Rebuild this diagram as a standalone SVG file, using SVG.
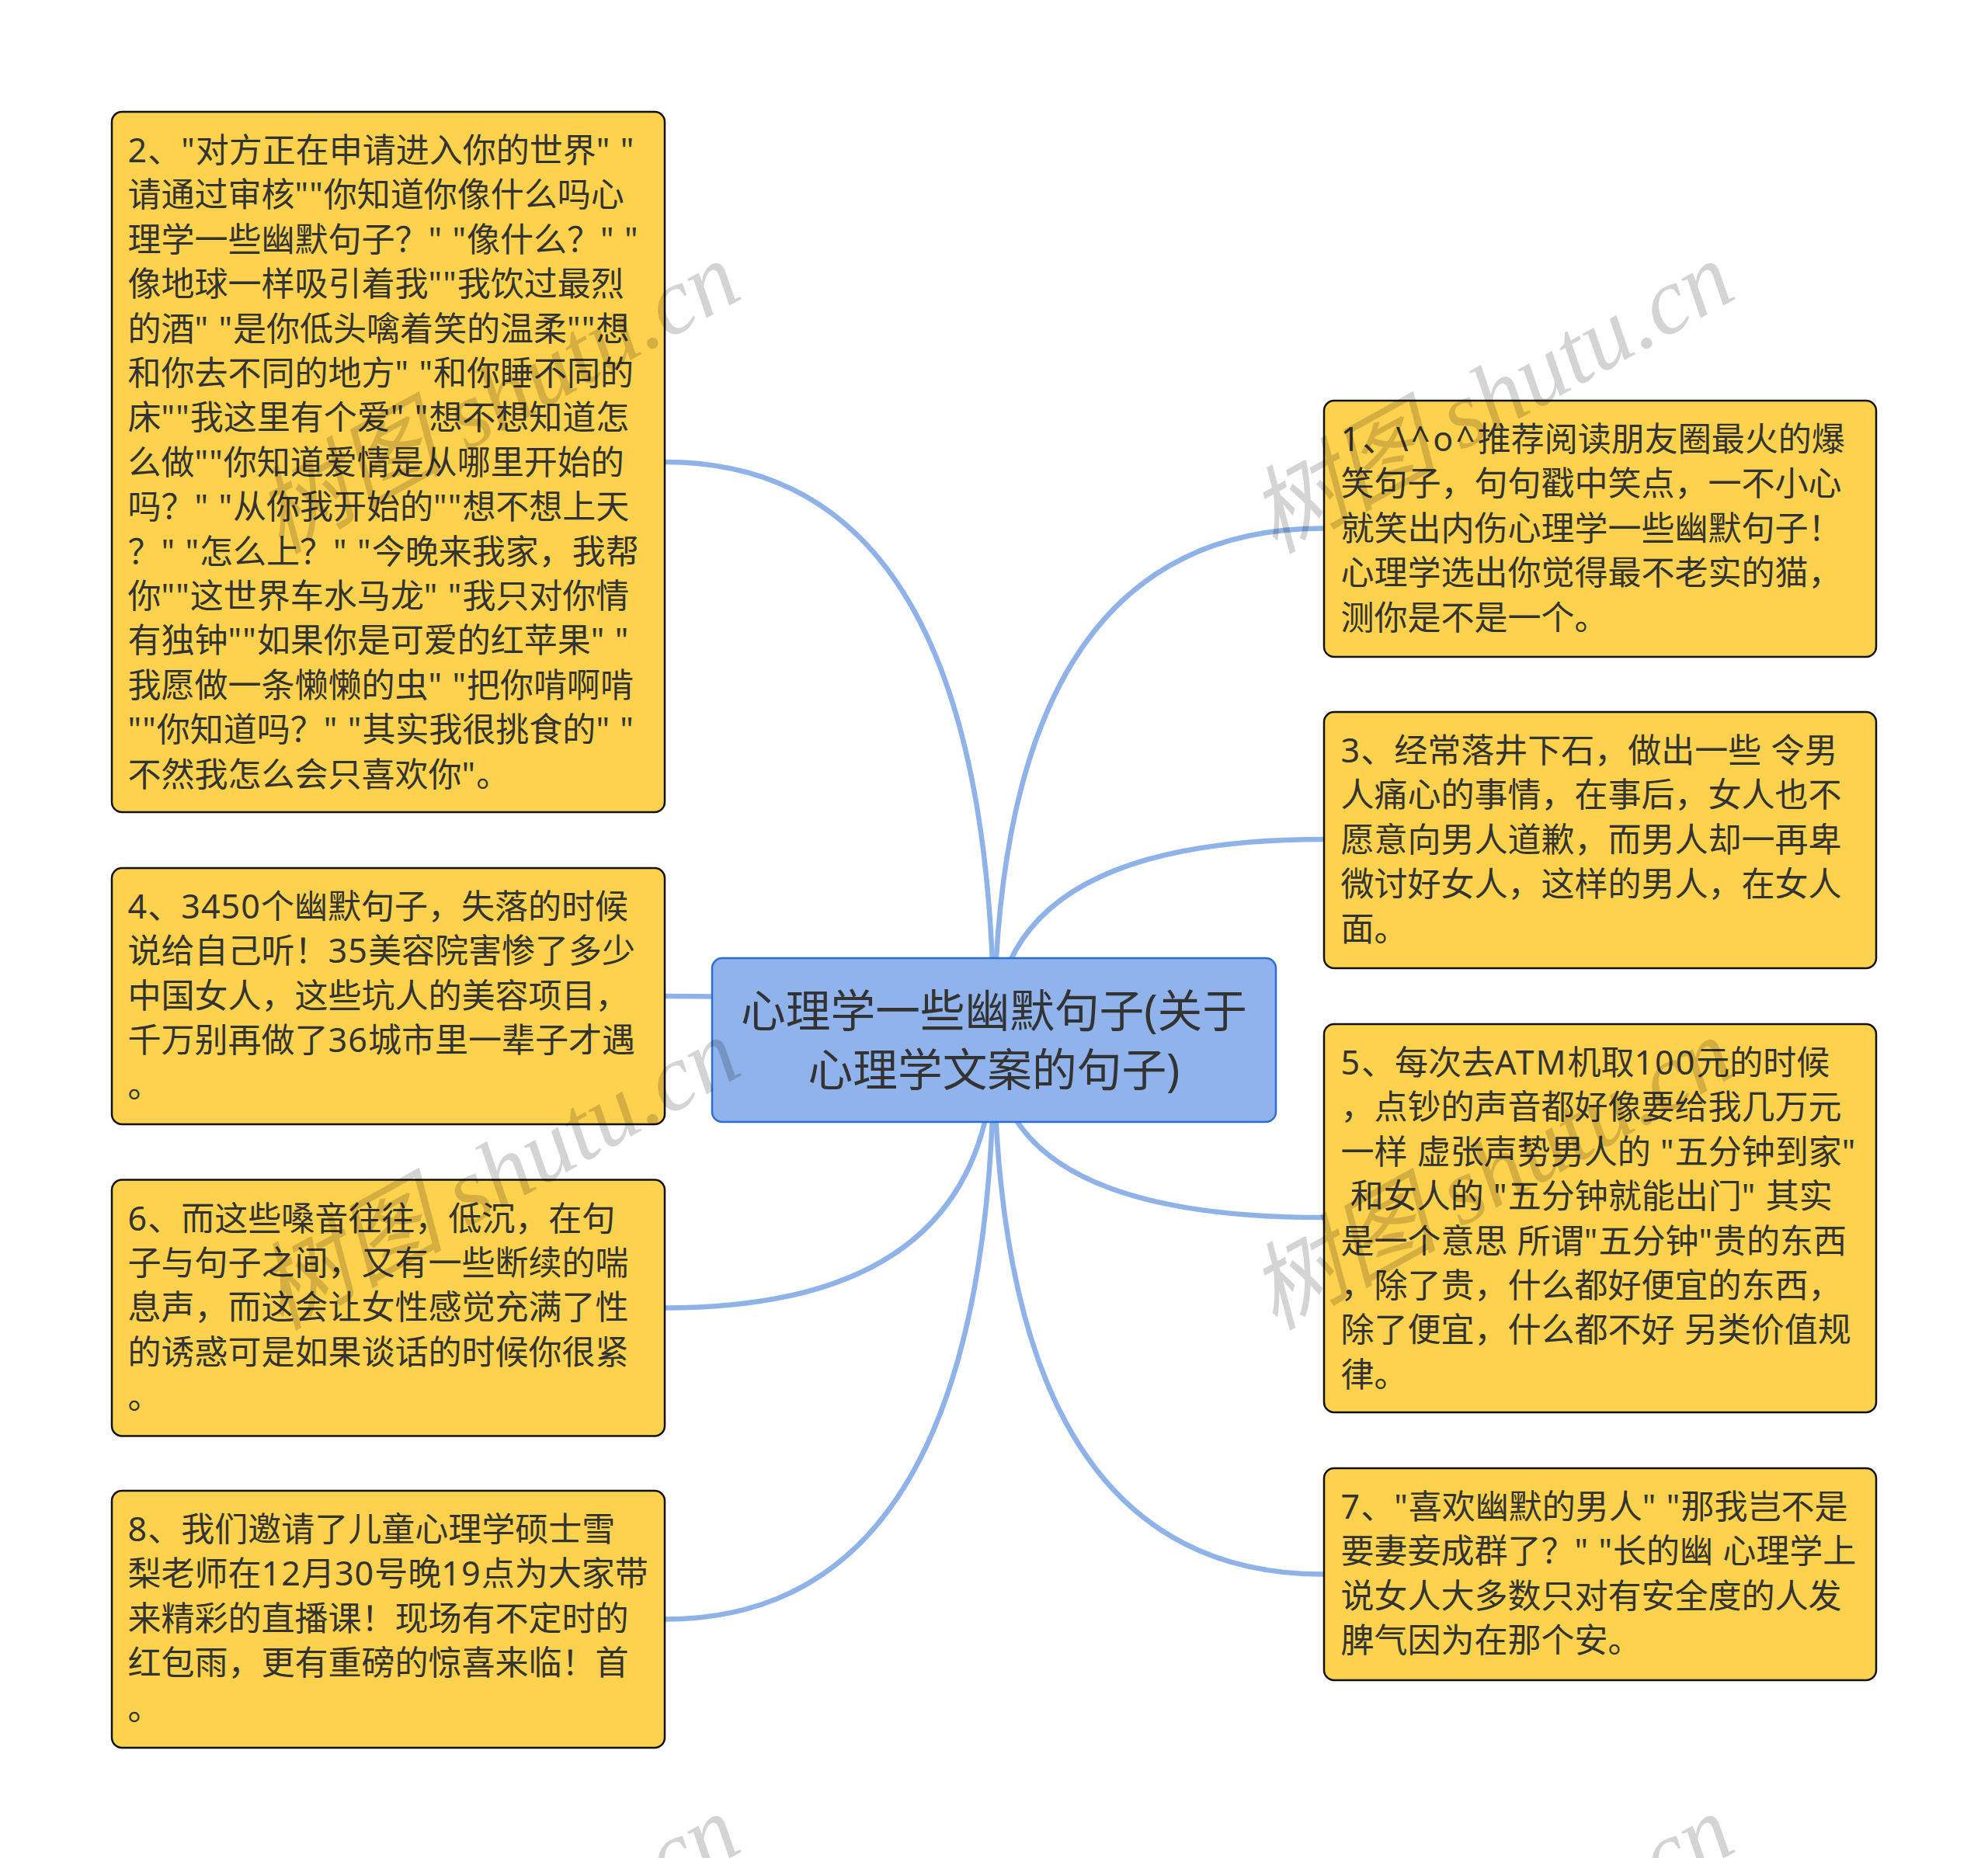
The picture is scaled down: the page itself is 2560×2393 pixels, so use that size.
<svg xmlns="http://www.w3.org/2000/svg" width="2560" height="2393" viewBox="0 0 2560 2393">
<style>
text{font-family:"Noto Sans","Noto Sans CJK SC",sans-serif;white-space:pre}
.box{fill:#ffd24d;stroke:#111;stroke-width:2.5}
.root{fill:#8fb3ea;stroke:#2a6fd6;stroke-width:2.5}
.t{font-size:43px;fill:#333}
.l{letter-spacing:1.1px}
.w{letter-spacing:2px}
.x{letter-spacing:3.5px}
.rt{font-size:57.7px;fill:#333;text-anchor:middle}
.c{fill:none;stroke:#8fb3e8;stroke-width:6.5}
.wm{font-family:"Liberation Serif","Noto Sans CJK SC",serif;font-style:italic;font-size:122px;fill:#000;fill-opacity:.17}
</style>
<rect width="2560" height="2393" fill="#fff"/>
<g id="connectors">
<path class="c" d="M856 595Q1280 595 1280 1339.5"/>
<path class="c" d="M856 1283Q1280 1283 1280 1339.5"/>
<path class="c" d="M856 1684.5Q1280 1684.5 1280 1339.5"/>
<path class="c" d="M856 2085.5Q1280 2085.5 1280 1339.5"/>
<path class="c" d="M1704 680.5Q1280 680.5 1280 1339.5"/>
<path class="c" d="M1704 1081Q1280 1081 1280 1339.5"/>
<path class="c" d="M1704 1568Q1280 1568 1280 1339.5"/>
<path class="c" d="M1704 2027.5Q1280 2027.5 1280 1339.5"/>
</g>
<g id="root"><rect class="root" x="917" y="1234" width="726" height="211" rx="13"/>
<text class="rt"><tspan x="1280" y="1323">心理学一些幽默句子(关于</tspan><tspan x="1280" y="1399">心理学文案的句子)</tspan></text></g>
<g id="n2"><rect class="box" x="144" y="144" width="712" height="902" rx="13"/>
<text class="t" transform="translate(164.5 209)"><tspan x="0" y="0"><tspan class="l">2</tspan>、<tspan class="l">"</tspan>对方正在申请进入你的世界<tspan class="l">" "</tspan></tspan><tspan x="0" y="57.4">请通过审核<tspan class="l">""</tspan>你知道你像什么吗心</tspan><tspan x="0" y="114.8">理学一些幽默句子？<tspan class="l">" "</tspan>像什么？<tspan class="l">" "</tspan></tspan><tspan x="0" y="172.2">像地球一样吸引着我<tspan class="l">""</tspan>我饮过最烈</tspan><tspan x="0" y="229.6">的酒<tspan class="l">" "</tspan>是你低头噙着笑的温柔<tspan class="l">""</tspan>想</tspan><tspan x="0" y="287">和你去不同的地方<tspan class="l">" "</tspan>和你睡不同的</tspan><tspan x="0" y="344.4">床<tspan class="l">""</tspan>我这里有个爱<tspan class="l">" "</tspan>想不想知道怎</tspan><tspan x="0" y="401.8">么做<tspan class="l">""</tspan>你知道爱情是从哪里开始的</tspan><tspan x="0" y="459.2">吗？<tspan class="l">" "</tspan>从你我开始的<tspan class="l">""</tspan>想不想上天</tspan><tspan x="0" y="516.6">？<tspan class="l">" "</tspan>怎么上？<tspan class="l">" "</tspan>今晚来我家，我帮</tspan><tspan x="0" y="574">你<tspan class="l">""</tspan>这世界车水马龙<tspan class="l">" "</tspan>我只对你情</tspan><tspan x="0" y="631.4">有独钟<tspan class="l">""</tspan>如果你是可爱的红苹果<tspan class="l">" "</tspan></tspan><tspan x="0" y="688.8">我愿做一条懒懒的虫<tspan class="l">" "</tspan>把你啃啊啃</tspan><tspan x="0" y="746.2"><tspan class="l">""</tspan>你知道吗？<tspan class="l">" "</tspan>其实我很挑食的<tspan class="l">" "</tspan></tspan><tspan x="0" y="803.6">不然我怎么会只喜欢你<tspan class="l">"</tspan>。</tspan></text></g>
<g id="n4"><rect class="box" x="144" y="1118" width="712" height="330" rx="13"/>
<text class="t" transform="translate(164.5 1183)"><tspan x="0" y="0"><tspan class="l">4</tspan>、<tspan class="l">3450</tspan>个幽默句子，失落的时候</tspan><tspan x="0" y="57.4">说给自己听！<tspan class="l">35</tspan>美容院害惨了多少</tspan><tspan x="0" y="114.8">中国女人，这些坑人的美容项目，</tspan><tspan x="0" y="172.2">千万别再做了<tspan class="l">36</tspan>城市里一辈子才遇</tspan><tspan x="0" y="229.6">。</tspan></text></g>
<g id="n6"><rect class="box" x="144" y="1519.5" width="712" height="330" rx="13"/>
<text class="t" transform="translate(164.5 1584.5)"><tspan x="0" y="0"><tspan class="l">6</tspan>、而这些嗓音往往，低沉，在句</tspan><tspan x="0" y="57.4">子与句子之间，又有一些断续的喘</tspan><tspan x="0" y="114.8">息声，而这会让女性感觉充满了性</tspan><tspan x="0" y="172.2">的诱惑可是如果谈话的时候你很紧</tspan><tspan x="0" y="229.6">。</tspan></text></g>
<g id="n8"><rect class="box" x="144" y="1920" width="712" height="331" rx="13"/>
<text class="t" transform="translate(164.5 1985)"><tspan x="0" y="0"><tspan class="l">8</tspan>、我们邀请了儿童心理学硕士雪</tspan><tspan x="0" y="57.4">梨老师在<tspan class="l">12</tspan>月<tspan class="l">30</tspan>号晚<tspan class="l">19</tspan>点为大家带</tspan><tspan x="0" y="114.8">来精彩的直播课！现场有不定时的</tspan><tspan x="0" y="172.2">红包雨，更有重磅的惊喜来临！首</tspan><tspan x="0" y="229.6">。</tspan></text></g>
<g id="n1"><rect class="box" x="1705" y="516" width="711" height="330" rx="13"/>
<text class="t" transform="translate(1726.5 581)"><tspan x="0" y="0"><tspan class="x">1</tspan>、<tspan class="x">\^o^</tspan>推荐阅读朋友圈最火的爆</tspan><tspan x="0" y="57.4">笑句子，句句戳中笑点，一不小心</tspan><tspan x="0" y="114.8">就笑出内伤心理学一些幽默句子！</tspan><tspan x="0" y="172.2">心理学选出你觉得最不老实的猫，</tspan><tspan x="0" y="229.6">测你是不是一个。</tspan></text></g>
<g id="n3"><rect class="box" x="1705" y="917" width="711" height="330" rx="13"/>
<text class="t" transform="translate(1726.5 982)"><tspan x="0" y="0"><tspan class="l">3</tspan>、经常落井下石，做出一些<tspan class="l"> </tspan>令男</tspan><tspan x="0" y="57.4">人痛心的事情，在事后，女人也不</tspan><tspan x="0" y="114.8">愿意向男人道歉，而男人却一再卑</tspan><tspan x="0" y="172.2">微讨好女人，这样的男人，在女人</tspan><tspan x="0" y="229.6">面。</tspan></text></g>
<g id="n5"><rect class="box" x="1705" y="1319" width="711" height="500" rx="13"/>
<text class="t" transform="translate(1726.5 1384)"><tspan x="0" y="0"><tspan class="w">5</tspan>、每次去<tspan class="w">ATM</tspan>机取<tspan class="w">100</tspan>元的时候</tspan><tspan x="0" y="57.4">，点钞的声音都好像要给我几万元</tspan><tspan x="0" y="114.8">一样<tspan class="l"> </tspan>虚张声势男人的<tspan class="l"> "</tspan>五分钟到家<tspan class="l">"</tspan></tspan><tspan x="0" y="172.2"><tspan class="l"> </tspan>和女人的<tspan class="l"> "</tspan>五分钟就能出门<tspan class="l">" </tspan>其实</tspan><tspan x="0" y="229.6">是一个意思<tspan class="l"> </tspan>所谓<tspan class="l">"</tspan>五分钟<tspan class="l">"</tspan>贵的东西</tspan><tspan x="0" y="287">，除了贵，什么都好便宜的东西，</tspan><tspan x="0" y="344.4">除了便宜，什么都不好<tspan class="l"> </tspan>另类价值规</tspan><tspan x="0" y="401.8">律。</tspan></text></g>
<g id="n7"><rect class="box" x="1705" y="1891" width="711" height="273" rx="13"/>
<text class="t" transform="translate(1726.5 1956)"><tspan x="0" y="0"><tspan class="l">7</tspan>、<tspan class="l">"</tspan>喜欢幽默的男人<tspan class="l">" "</tspan>那我岂不是</tspan><tspan x="0" y="57.4">要妻妾成群了？<tspan class="l">" "</tspan>长的幽<tspan class="l"> </tspan>心理学上</tspan><tspan x="0" y="114.8">说女人大多数只对有安全度的人发</tspan><tspan x="0" y="172.2">脾气因为在那个安。</tspan></text></g>
<g id="watermarks">
<text class="wm" transform="translate(361 714) rotate(-29)">树图 shutu.cn</text>
<text class="wm" transform="translate(1641 714) rotate(-29)">树图 shutu.cn</text>
<text class="wm" transform="translate(361 1714) rotate(-29)">树图 shutu.cn</text>
<text class="wm" transform="translate(1641 1714) rotate(-29)">树图 shutu.cn</text>
<text class="wm" transform="translate(361 2714) rotate(-29)">树图 shutu.cn</text>
<text class="wm" transform="translate(1641 2714) rotate(-29)">树图 shutu.cn</text>
</g>
</svg>
